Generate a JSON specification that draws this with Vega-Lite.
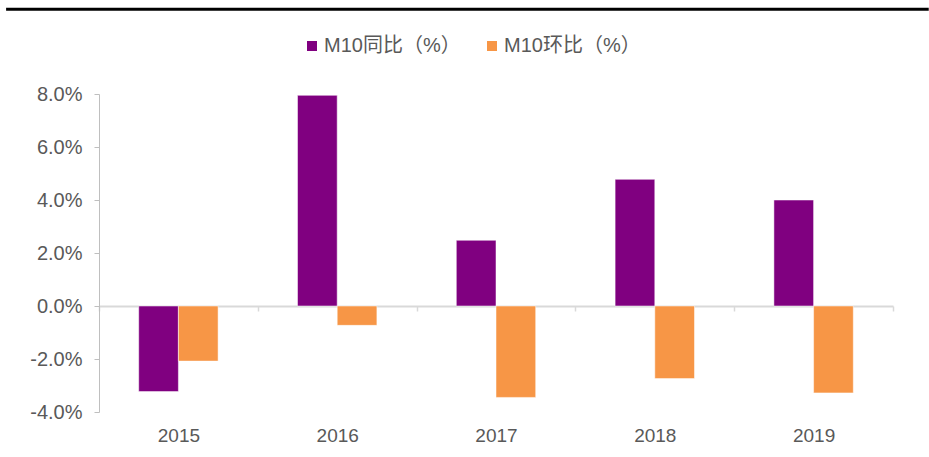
{
  "$schema": "https://vega.github.io/schema/vega-lite/v6.json",
  "width": 794,
  "height": 318,
  "autosize": {"type": "none"},
  "padding": {"left": 99, "top": 94, "right": 36, "bottom": 45},
  "background": "white",
  "config": {"view": {"stroke": null}, "font": "Liberation Sans"},
  "layer": [
    {
      "data": {
        "values": [
          {"year": "2015", "series": "M10同比（%）", "value": -3.23},
          {"year": "2015", "series": "M10环比（%）", "value": -2.08},
          {"year": "2016", "series": "M10同比（%）", "value": 7.95},
          {"year": "2016", "series": "M10环比（%）", "value": -0.73},
          {"year": "2017", "series": "M10同比（%）", "value": 2.48},
          {"year": "2017", "series": "M10环比（%）", "value": -3.45},
          {"year": "2018", "series": "M10同比（%）", "value": 4.78},
          {"year": "2018", "series": "M10环比（%）", "value": -2.74},
          {"year": "2019", "series": "M10同比（%）", "value": 4.0},
          {"year": "2019", "series": "M10环比（%）", "value": -3.28}
        ]
      },
      "mark": {"type": "bar", "stroke": "#ffffff", "strokeOpacity": 0.5, "strokeWidth": 1},
      "encoding": {
        "x": {
          "field": "year", "type": "nominal",
          "scale": {"paddingInner": 0, "paddingOuter": 0},
          "axis": {
            "title": null, "orient": "bottom", "offset": -106, "tickBand": "extent",
            "labelAngle": 0, "labelPadding": 115, "labelFontSize": 19, "labelColor": "#595959",
            "labelFont": "Liberation Sans",
            "domainColor": "#D9D9D9", "domainWidth": 2, "tickColor": "#D9D9D9", "tickWidth": 1.5,
            "tickSize": 5, "grid": false
          }
        },
        "xOffset": {
          "field": "series", "type": "nominal",
          "sort": ["M10同比（%）", "M10环比（%）"],
          "scale": {"paddingInner": 0, "paddingOuter": 1}
        },
        "y": {
          "field": "value", "type": "quantitative",
          "scale": {"domain": [-4, 8], "nice": false},
          "axis": {
            "title": null, "values": [-4, -2, 0, 2, 4, 6, 8],
            "labelExpr": "(datum.value < 0 ? '-' : '') + format(abs(datum.value), '.1f') + '%'",
            "labelFontSize": 20, "labelColor": "#595959", "labelFont": "Liberation Sans",
            "labelPadding": 12, "tickSize": 5, "tickColor": "#BFBFBF", "domainColor": "#BFBFBF",
            "grid": false
          }
        },
        "color": {
          "field": "series", "type": "nominal",
          "sort": ["M10同比（%）", "M10环比（%）"],
          "scale": {"domain": ["M10同比（%）", "M10环比（%）"], "range": ["#800080", "#F79646"]},
          "legend": {
            "title": null, "orient": "none", "legendX": 203, "legendY": -58,
            "direction": "horizontal", "symbolType": "square", "symbolSize": 100,
            "symbolStrokeWidth": 0, "labelFontSize": 20, "labelColor": "#595959",
            "labelFont": "Liberation Sans, Noto Sans CJK SC", "labelOffset": 2, "columnPadding": 21
          }
        }
      }
    },
    {
      "data": {"values": [{}]},
      "mark": {"type": "rule", "color": "black", "strokeWidth": 3},
      "encoding": {
        "x": {"datum": -0.117, "type": "quantitative", "scale": {"domain": [0, 1], "nice": false, "zero": false}, "axis": null},
        "x2": {"datum": 1.045},
        "y": {"datum": 11.2, "type": "quantitative"}
      }
    }
  ],
  "resolve": {"scale": {"x": "independent"}, "axis": {"x": "independent"}}
}
